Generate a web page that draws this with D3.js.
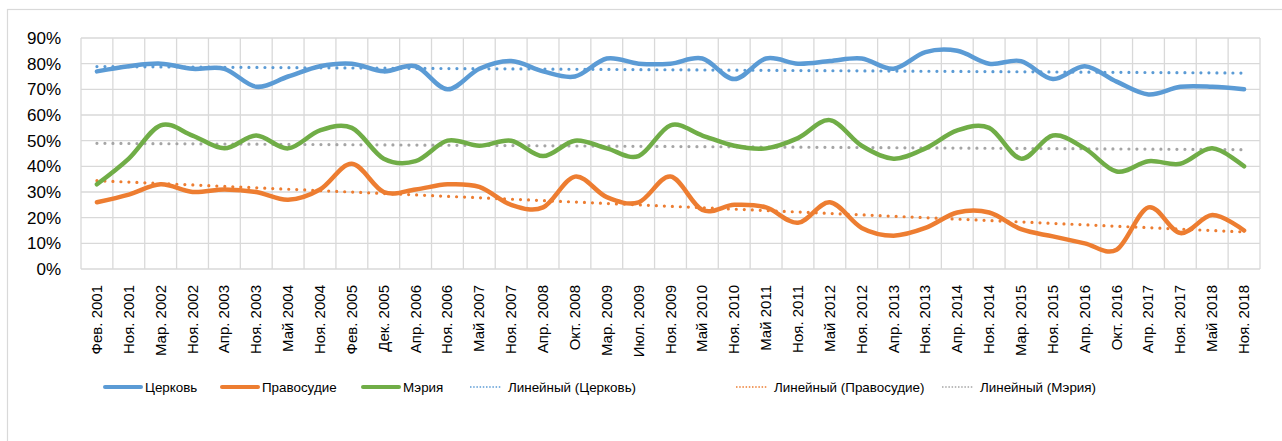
<!DOCTYPE html>
<html><head><meta charset="utf-8">
<script src="https://cdn.jsdelivr.net/npm/d3@7"></script>
<style>
html,body{margin:0;padding:0;background:#fff;}
svg{display:block;font-family:"Liberation Sans",Arial,sans-serif;}
</style></head>
<body>
<svg id="c" width="1282" height="441"></svg>
<script>
const categories = ["Фев. 2001","Ноя. 2001","Мар. 2002","Ноя. 2002","Апр. 2003","Ноя. 2003","Май 2004","Ноя. 2004","Фев. 2005","Дек. 2005","Апр. 2006","Ноя. 2006","Май 2007","Ноя. 2007","Апр. 2008","Окт. 2008","Мар. 2009","Июл. 2009","Ноя. 2009","Май 2010","Ноя. 2010","Май 2011","Ноя. 2011","Май 2012","Ноя. 2012","Апр. 2013","Ноя. 2013","Апр. 2014","Ноя. 2014","Мар. 2015","Ноя. 2015","Апр. 2016","Окт. 2016","Апр. 2017","Ноя. 2017","Май 2018","Ноя. 2018"];
const church  = [77,79,80,78,78,71,75,79,80,77,79,70,78,81,77,75,82,80,80,82,74,82,80,81,82,78,84.5,85,80,81,74,79,73,68,71,71,70];
const justice = [26,29,33,30,31,30,27,31,41,30,31,33,32,25,24,36,28,26,36,23,25,24,18,26,16,13,16,22,22,15.5,12.7,10,7.5,24,14,21,15];
const mayor   = [33,43,56,52,47,52,47,54,55,43,42,50,48,50,44,50,47,44,56,52,48,47,51,58,48,43,47,54,55,43,52,47,38,42,41,47,40];
const yTicks = [0,10,20,30,40,50,60,70,80,90];
const seriesNames = ["Церковь","Правосудие","Мэрия"];
const trendNames = ["Линейный (Церковь)","Линейный (Правосудие)","Линейный (Мэрия)"];
const colors = ["#5B9BD5","#ED7D31","#70AD47"];
const trendColors = ["#5B9BD5","#ED7D31","#A5A5A5"];

const svg = d3.select("#c");
const L = 81, R = 1260, T = 38, B = 269;

// outer frame
svg.append("rect").attr("x",7.5).attr("y",9.5).attr("width",1300).attr("height",460)
  .attr("fill","none").attr("stroke","#d9d9d9").attr("stroke-width",1.2);

const x = d3.scaleBand().domain(categories).range([L,R]).padding(0);
const y = d3.scaleLinear().domain([0,90]).range([B,T]);

// gridlines
const g = svg.append("g");
g.selectAll("line.h").data(yTicks).join("line")
  .attr("x1",L).attr("x2",R).attr("y1",d=>y(d)).attr("y2",d=>y(d))
  .attr("stroke","#d9d9d9").attr("stroke-width",1.3);
const bounds = categories.map(c=>x(c)).concat([R]);
g.selectAll("line.v").data(bounds).join("line")
  .attr("x1",d=>d).attr("x2",d=>d).attr("y1",T).attr("y2",B)
  .attr("stroke","#d9d9d9").attr("stroke-width",1.3);

// y axis
const yAxis = svg.append("g").attr("transform",`translate(${L},0)`)
  .call(d3.axisLeft(y).tickValues(yTicks).tickFormat(d=>d+"%").tickSize(0).tickPadding(20));
yAxis.select(".domain").remove();
yAxis.selectAll("text").attr("font-size","17px").attr("fill","#000").attr("font-family","Liberation Sans, Arial, sans-serif");

// x axis
const xAxis = svg.append("g").attr("transform",`translate(0,${B})`)
  .call(d3.axisBottom(x).tickSize(0).tickPadding(0));
xAxis.select(".domain").remove();
xAxis.selectAll("text")
  .attr("font-size","15px").attr("fill","#000").attr("font-family","Liberation Sans, Arial, sans-serif")
  .attr("text-anchor","end").attr("dy",null).attr("y",0).attr("x",0)
  .attr("transform","translate(5,16) rotate(-90)");

const cx = c => x(c) + x.bandwidth()/2;

// trend lines (linear regression of each series)
function regress(vals){
  const n = vals.length; let sx=0,sy=0,sxx=0,sxy=0;
  vals.forEach((v,i)=>{sx+=i;sy+=v;sxx+=i*i;sxy+=i*v;});
  const b=(n*sxy-sx*sy)/(n*sxx-sx*sx); const a=(sy-b*sx)/n;
  return [a, a+b*(n-1)];
}
const data = [church, justice, mayor];
const first = categories[0], last = categories[categories.length-1];
data.forEach((vals,k)=>{
  const [y0,y1] = regress(vals);
  svg.append("line").attr("x1",cx(first)).attr("x2",cx(last))
    .attr("y1",y(y0)).attr("y2",y(y1))
    .attr("stroke",trendColors[k]).attr("stroke-width",3.2)
    .attr("stroke-linecap","round").attr("stroke-dasharray","0 8");
});

// series lines
const line = d3.line().x((d,i)=>cx(categories[i])).y(d=>y(d)).curve(d3.curveCardinal.tension(0));
data.forEach((vals,k)=>{
  svg.append("path").attr("d",line(vals)).attr("fill","none")
    .attr("stroke",colors[k]).attr("stroke-width",4.5).attr("stroke-linecap","round").attr("stroke-linejoin","round");
});

// legend
const ly = 387;
const legendItems = [
  {name:seriesNames[0],color:colors[0],dot:false,x0:105},
  {name:seriesNames[1],color:colors[1],dot:false,x0:222},
  {name:seriesNames[2],color:colors[2],dot:false,x0:363},
  {name:trendNames[0],color:trendColors[0],dot:true,x0:470},
  {name:trendNames[1],color:trendColors[1],dot:true,x0:736},
  {name:trendNames[2],color:trendColors[2],dot:true,x0:942}
];
const lg = svg.append("g");
legendItems.forEach(it=>{
  if(it.dot){
    lg.append("line").attr("x1",it.x0).attr("x2",it.x0+32).attr("y1",ly).attr("y2",ly)
      .attr("stroke",it.color).attr("stroke-width",1.5).attr("stroke-dasharray","1.5 1.7");
  } else {
    lg.append("line").attr("x1",it.x0).attr("x2",it.x0+36).attr("y1",ly).attr("y2",ly)
      .attr("stroke",it.color).attr("stroke-width",4).attr("stroke-linecap","round");
  }
  lg.append("text").attr("x",it.x0+(it.dot?38:40)).attr("y",ly+5)
    .attr("font-size","13.4px").attr("fill","#000").text(it.name);
});
</script>
</body></html>
